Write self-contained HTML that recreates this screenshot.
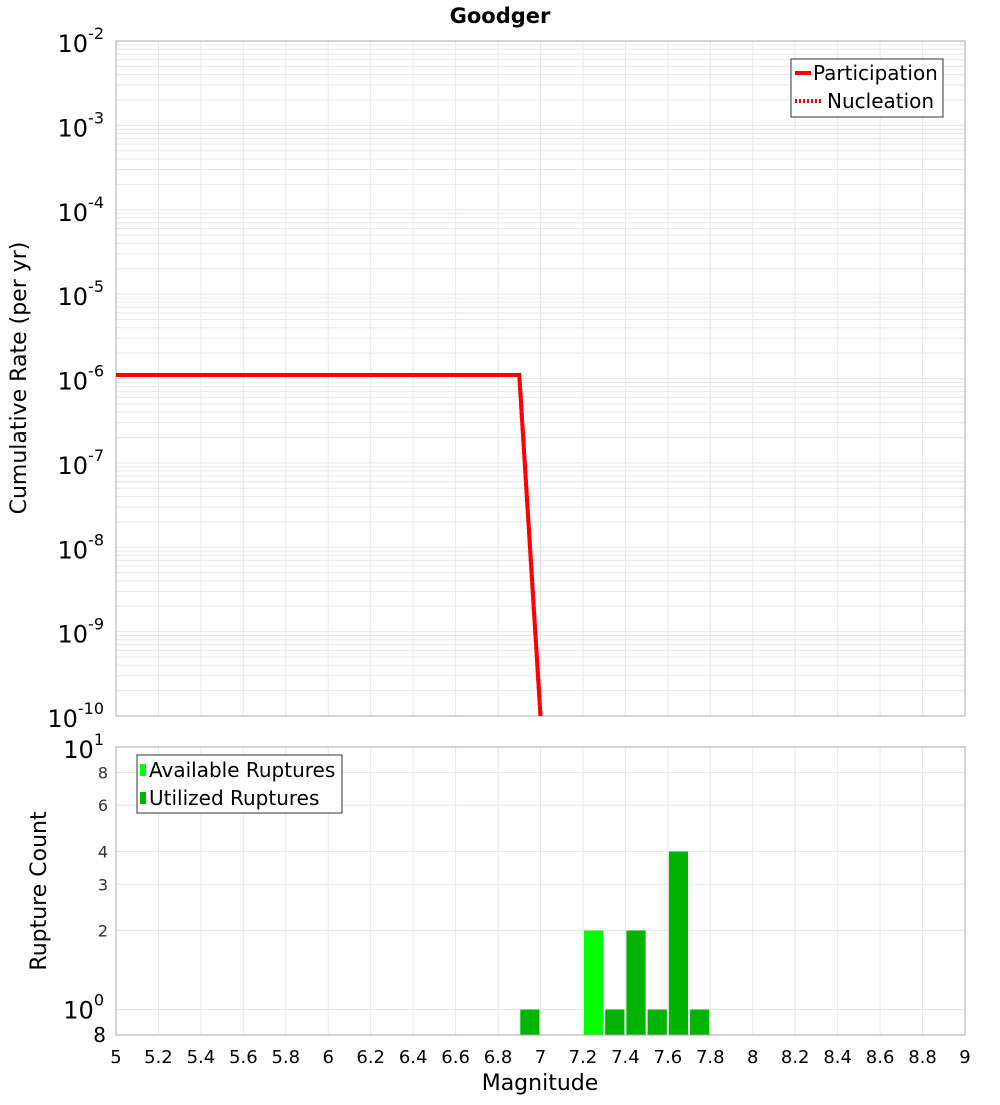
<!DOCTYPE html>
<html><head><meta charset="utf-8"><style>
body{margin:0;background:#fff;}
svg text{font-family:"DejaVu Sans","Liberation Sans",sans-serif;}
</style></head><body>
<svg id="c" width="1000" height="1100" xmlns="http://www.w3.org/2000/svg">
<text x="500" y="23" text-anchor="middle" font-size="21" font-weight="bold">Goodger</text>
<g id="topPlot"></g>
<g id="botPlot"></g>
<text transform="translate(26,378) rotate(-90)" text-anchor="middle" font-size="22">Cumulative Rate (per yr)</text>
<text transform="translate(46,891) rotate(-90)" text-anchor="middle" font-size="22">Rupture Count</text>
<text x="540" y="1090" text-anchor="middle" font-size="22">Magnitude</text>
<g>
<rect x="791" y="59" width="152" height="58" fill="#fff" stroke="#333"/>
<line x1="795" y1="73" x2="811" y2="73" stroke="#f00" stroke-width="4"/>
<text x="813" y="80" font-size="20">Participation</text>
<line x1="795" y1="101" x2="822" y2="101" stroke="#f00" stroke-width="4" stroke-dasharray="2,2"/>
<text x="827" y="108" font-size="20">Nucleation</text>
</g>
<g>
<rect x="137" y="755" width="205" height="58" fill="#fff" stroke="#333"/>
<rect x="140" y="764" width="6" height="12" fill="#00ff00"/>
<text x="149" y="777" font-size="20">Available Ruptures</text>
<rect x="140" y="792" width="6" height="12" fill="#00b400"/>
<text x="149" y="805" font-size="20">Utilized Ruptures</text>
</g>
</svg>
<script>
const rateMags=[5.0,6.9,7.0];
const participation=[1.1e-6,1.1e-6,1e-10];
const nucleation=[1.1e-6,1.1e-6,1e-10];
const binMags=[6.9,7.2,7.3,7.4,7.5,7.6,7.7];
const binCounts=[1,2,1,2,1,4,1];
const binTypes=['utilized','available','utilized','utilized','utilized','utilized','utilized'];
const xTicks=[5,5.2,5.4,5.6,5.8,6,6.2,6.4,6.6,6.8,7,7.2,7.4,7.6,7.8,8,8.2,8.4,8.6,8.8,9];
const rateExps=[-2,-3,-4,-5,-6,-7,-8,-9,-10];
const countTicks=[8,6,4,3,2];

const NS='http://www.w3.org/2000/svg';
const L=116,R=965,T1=41,B1=716,T2=747,B2=1035;
const xs=m=>L+(m-5)/4*(R-L);
const ys1=v=>T1+(-2-Math.log10(v))/8*(B1-T1);
const ys2=v=>T2+(1-Math.log10(v))/(1-Math.log10(0.8))*(B2-T2);
function mk(p,tag,a){const e=document.createElementNS(NS,tag);for(const k in a)e.setAttribute(k,a[k]);p.appendChild(e);return e;}
const topG=document.getElementById('topPlot'),botG=document.getElementById('botPlot');
for(let d=-10;d<-2;d++)for(let k=1;k<10;k++){const y=ys1(k*Math.pow(10,d));
const g=mk(topG,'line',{x1:L,x2:R,y1:y,y2:y,stroke:'#e8e8e8','stroke-width':1});

}
xTicks.forEach(t=>{const x=xs(t);
const g=mk(topG,'line',{x1:x,x2:x,y1:T1,y2:B1,stroke:'#e8e8e8'});


const g2=mk(botG,'line',{x1:x,x2:x,y1:T2,y2:B2,stroke:'#e8e8e8'});


const tx=mk(botG,'text',{x:x,y:1063,'text-anchor':'middle','font-size':18});tx.textContent=String(t);

});
rateExps.forEach(e=>{const y=ys1(Math.pow(10,e));
const t=mk(topG,'text',{x:104,y:y+11,'text-anchor':'end','font-size':24});
t.innerHTML='10<tspan dy="-13" font-size="16">'+e+'</tspan>';

});
mk(topG,'rect',{x:L,y:T1,width:R-L,height:B1-T1,fill:'none',stroke:'#aaa'});
const clip=mk(topG,'clipPath',{id:'cp'});mk(clip,'rect',{x:L,y:T1,width:R-L,height:B1-T1});
const pp=rateMags.map((m,i)=>xs(m)+','+ys1(participation[i])).join(' ');
const np=rateMags.map((m,i)=>xs(m)+','+ys1(nucleation[i])).join(' ');
const l1=mk(topG,'polyline',{points:pp,fill:'none',stroke:'#f00','stroke-width':4,'clip-path':'url(#cp)'});


const l2=mk(topG,'polyline',{points:np,fill:'none',stroke:'#f00','stroke-width':4,'stroke-dasharray':'2,2','clip-path':'url(#cp)'});


[10,8,6,4,3,2,1,0.8].forEach(v=>{const y=ys2(v);
const g=mk(botG,'line',{x1:L,x2:R,y1:y,y2:y,stroke:'#e8e8e8'});

});
countTicks.forEach(v=>{const y=ys2(v);
const t=mk(botG,'text',{x:108,y:y+6,'text-anchor':'end','font-size':16,fill:'#333'});t.textContent=v;

});
[[10,'1',ys2(10)+11,24],[1,'0',ys2(1)+9,24]].forEach(a=>{const t=mk(botG,'text',{x:104,y:a[2],'text-anchor':'end','font-size':a[3]});
t.innerHTML='10<tspan dy="-13" font-size="16">'+a[1]+'</tspan>';

});
const t8=mk(botG,'text',{x:106,y:1042,'text-anchor':'end','font-size':20});t8.textContent='8';


binMags.forEach((m,i)=>{const x0=xs(m)+1,x1=xs(m+0.1)-1,y=ys2(binCounts[i]);
const b=mk(botG,'rect',{x:x0,y:y,width:x1-x0,height:B2-y,fill:binTypes[i]==='available'?'#00ff00':'#00b400'});

});
mk(botG,'rect',{x:L,y:T2,width:R-L,height:B2-T2,fill:'none',stroke:'#aaa'});
</script>
</body></html>
